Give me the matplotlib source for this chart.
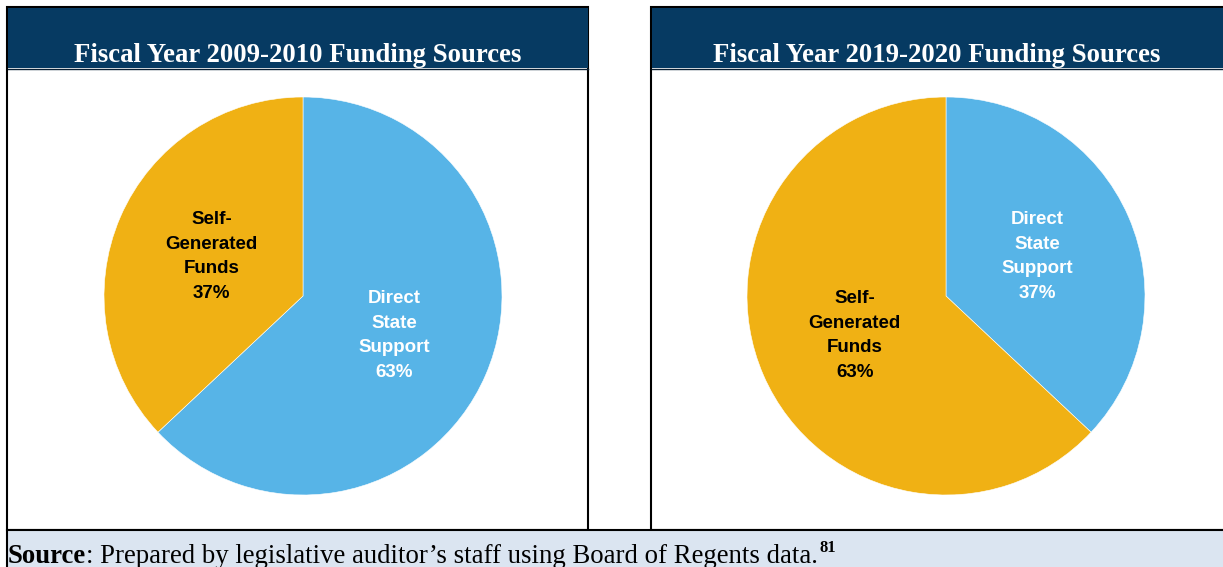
import matplotlib.pyplot as plt
from matplotlib.patches import Rectangle

# data
titles = ["Fiscal Year 2009-2010 Funding Sources", "Fiscal Year 2019-2020 Funding Sources"]
sources = ["Direct\nState\nSupport", "Self-\nGenerated\nFunds"]
share_0910 = [63, 37]
share_1920 = [37, 63]
source_note = "Prepared by legislative auditor\u2019s staff using Board of Regents data."
note_ref = "81"

W, H = 1223, 567
navy = "#063a62"
blue = "#57b4e7"
gold = "#f0b114"
src_bg = "#dbe5f1"

fig = plt.figure(figsize=(W / 100, H / 100), dpi=100)

# overlay axes in pixel coordinates for boxes and text
bg = fig.add_axes([0, 0, 1, 1])
bg.set_xlim(0, W)
bg.set_ylim(H, 0)
bg.axis("off")

lw = 1.5
panels = [(7, 588), (651, W + 5)]
for (x0, x1), title in zip(panels, titles):
    bg.add_patch(Rectangle((x0, 7), x1 - x0, 523, facecolor="white", edgecolor="black", lw=lw, zorder=1))
    bg.add_patch(Rectangle((x0 + 1, 8), x1 - x0 - 1, 60, facecolor=navy, edgecolor="none", zorder=2))
    bg.plot([x0 + 1, x1], [68.5, 68.5], color="#0a1f33", lw=1, zorder=3)
    xc = (x0 + min(x1, W)) / 2
    bg.text(xc, 62, title, color="white", fontsize=19.3, fontweight="bold",
            family="Liberation Serif", ha="center", va="baseline", zorder=4)

bg.add_patch(Rectangle((7, 530), W, 40, facecolor=src_bg, edgecolor="black", lw=lw, zorder=5))
t1 = bg.text(8, 563, "Source", fontsize=19.3, fontweight="bold", family="Liberation Serif",
             ha="left", va="baseline", zorder=6)
t2 = bg.annotate(": " + source_note, xy=(1, 0), xycoords=t1, fontsize=19.3,
                 family="Liberation Serif", ha="left", va="bottom", zorder=6)
bg.annotate(note_ref, xy=(1, 1), xycoords=t2, xytext=(1, 3), textcoords="offset points",
            fontsize=12, fontweight="bold", family="Liberation Serif",
            ha="left", va="top", zorder=6)

# pies
centers = [303, 946]
cy, r = 296, 199
for cx, vals in zip(centers, [share_0910, share_1920]):
    ax = fig.add_axes([(cx - r) / W, (H - cy - r) / H, 2 * r / W, 2 * r / H])
    labels = [f"{s}\n{v}%" for s, v in zip(sources, vals)]
    wedges, texts = ax.pie(vals, labels=labels, colors=[blue, gold], startangle=90,
                           counterclock=False, labeldistance=0.5,
                           wedgeprops=dict(edgecolor="white", linewidth=0.4),
                           textprops=dict(ha="center", va="center", fontsize=13.5,
                                          fontweight="bold", family="Liberation Sans",
                                          linespacing=1.6))
    texts[0].set_color("white")
    texts[1].set_color("black")
    ax.set_xlim(-1, 1)
    ax.set_ylim(-1, 1)
    ax.set_aspect("equal")
    ax.axis("off")

fig.savefig("out.png", dpi=100)
